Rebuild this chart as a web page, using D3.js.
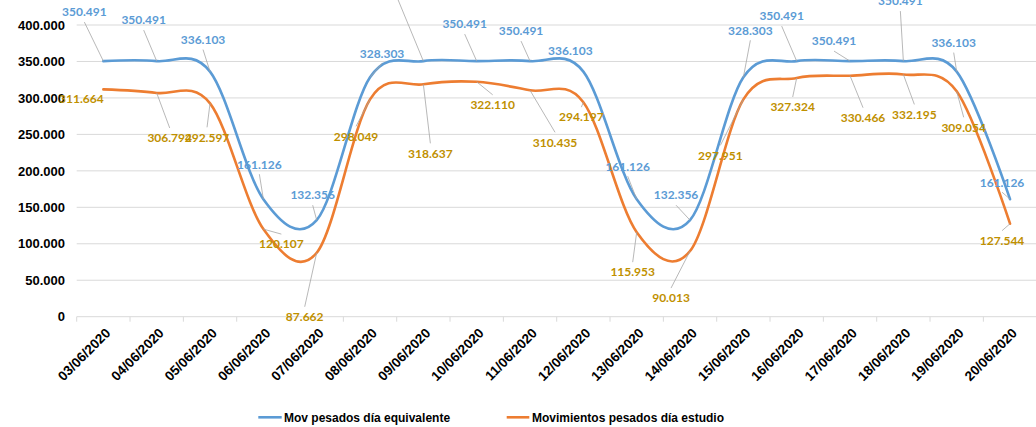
<!DOCTYPE html>
<html>
<head>
<meta charset="utf-8">
<script src="https://cdn.jsdelivr.net/npm/d3@7"></script>
<style>
  body { margin: 0; background: #fff; }
  svg { display: block; }
</style>
</head>
<body>
<svg id="chart" width="1036" height="427"></svg>
<script>
// datos
const dates = ["03/06/2020", "04/06/2020", "05/06/2020", "06/06/2020", "07/06/2020", "08/06/2020",
               "09/06/2020", "10/06/2020", "11/06/2020", "12/06/2020", "13/06/2020", "14/06/2020",
               "15/06/2020", "16/06/2020", "17/06/2020", "18/06/2020", "19/06/2020", "20/06/2020"];
const movEquivalente = [350491, 350491, 336103, 161126, 132356, 328303, 350491, 350491, 350491,
                        336103, 161126, 132356, 328303, 350491, 350491, 350491, 336103, 161126];
const movEstudio = [311664, 306794, 292597, 120107, 87662, 298049, 318637, 322110, 310435,
                    294197, 115953, 90013, 297951, 327324, 330466, 332195, 309054, 127544];
const yTicks = [0, 50000, 100000, 150000, 200000, 250000, 300000, 350000, 400000];
const seriesNames = ["Mov pesados día equivalente", "Movimientos pesados día estudio"];

// desplazamiento de las etiquetas respecto al punto [dx, dy, linea guia]
const blueLabelOffsets = [[-19, -49, 1], [-13, -41, 1], [-7, -32, 1], [-4, -35, 1], [-4, -25, 1], [12, -24, 1],
                          [-26, -73, 1], [-12, -37, 1], [-9, -30, 1], [-13, -21, 0], [-9, -33, 1], [-14, -25, 1],
                          [7, -47, 1], [-15, -45, 1], [-16, -20, 1], [-3, -60, 1], [-3, -29, 1], [-8, -17, 1]];
const orangeLabelOffsets = [[-22, 9, 0], [13, 45, 1], [-3, 34, 1], [18, 15, 1], [-12, 64, 1], [-14, 37, 1],
                            [7, 69, 1], [16, 23, 1], [25, 52, 1], [-2, 15, 1], [-4, 40, 1], [-19, 47, 1],
                            [-23, 56, 1], [-4, 29, 1], [13, 42, 1], [11, 40, 1], [7, 36, 1], [-8, 17, 1]];

const colors = ["#5B9BD5", "#ED7D31"];
const labelColors = ["#5B9BD5", "#BF9000"];

const locale = d3.formatLocale({ decimal: ",", thousands: ".", grouping: [3], currency: ["", ""] });
const fmt = locale.format(",d");

const svg = d3.select("#chart");
const plotLeft = 76.7, plotRight = 1036.7, plotTop = 25, plotBottom = 316.7;

const x = d3.scaleBand().domain(dates).range([plotLeft, plotRight]).padding(0);
const y = d3.scaleLinear().domain([0, 400000]).range([plotBottom, plotTop]);
const cx = d => x(d) + x.bandwidth() / 2;

// lineas de cuadricula
svg.append("g")
   .selectAll("line")
   .data(yTicks)
   .enter()
   .append("line")
   .attr("x1", plotLeft)
   .attr("x2", plotRight)
   .attr("y1", d => y(d))
   .attr("y2", d => y(d))
   .attr("stroke", "#D9D9D9")
   .attr("stroke-width", 1);

// eje y
svg.append("g")
   .selectAll("text")
   .data(yTicks)
   .enter()
   .append("text")
   .attr("x", 65)
   .attr("y", d => y(d))
   .attr("dy", "0.36em")
   .attr("text-anchor", "end")
   .style("font-family", "'Liberation Sans', Arial, sans-serif")
   .style("font-weight", "bold")
   .style("font-size", "13px")
   .attr("fill", "#000")
   .text(d => fmt(d));

// marcas del eje x
const tickPos = dates.map(d => x(d)).concat([plotRight]);
svg.append("g")
   .selectAll("line")
   .data(tickPos)
   .enter()
   .append("line")
   .attr("x1", d => d)
   .attr("x2", d => d)
   .attr("y1", plotBottom)
   .attr("y2", plotBottom + 5)
   .attr("stroke", "#D9D9D9");

svg.append("g")
   .selectAll("text")
   .data(dates)
   .enter()
   .append("text")
   .attr("transform", d => "translate(" + (cx(d) + 1) + "," + 327 + ") rotate(-45)")
   .attr("dy", "0.72em")
   .attr("text-anchor", "end")
   .style("font-family", "'Liberation Sans', Arial, sans-serif")
   .style("font-weight", "bold")
   .style("font-size", "13.5px")
   .attr("fill", "#000")
   .text(d => d);

// lineas suavizadas
const line = d3.line()
               .x((d, i) => cx(dates[i]))
               .y(d => y(d))
               .curve(d3.curveCardinal.tension(0));

[movEquivalente, movEstudio].forEach((values, s) => {
  svg.append("path")
     .datum(values)
     .attr("d", line)
     .attr("fill", "none")
     .attr("stroke", colors[s])
     .attr("stroke-width", 2.6)
     .attr("stroke-linecap", "round");
});

// etiquetas de datos con lineas guia
[[movEquivalente, blueLabelOffsets], [movEstudio, orangeLabelOffsets]].forEach(([values, offsets], s) => {
  values.forEach((v, i) => {
    const px = cx(dates[i]), py = y(v);
    const lx = px + offsets[i][0], ly = py + offsets[i][1];
    if (offsets[i][2]) {
      const sy = py > ly ? ly + 10 : ly - 10;
      svg.append("line")
         .attr("x1", lx)
         .attr("y1", sy)
         .attr("x2", px)
         .attr("y2", py)
         .attr("stroke", "#A6A6A6")
         .attr("stroke-width", 0.8);
    }
    svg.append("text")
       .attr("x", lx)
       .attr("y", ly)
       .attr("dy", "0.36em")
       .attr("text-anchor", "middle")
       .style("font-family", "Lato, 'Liberation Sans', sans-serif")
       .style("font-weight", "bold")
       .style("font-size", "12px")
       .attr("fill", labelColors[s])
       .text(fmt(v));
  });
});

// leyenda
const legendItems = [
  { x1: 258.3, x2: 281.7, tx: 284 },
  { x1: 506.7, x2: 529.3, tx: 532 }
];
legendItems.forEach((it, s) => {
  svg.append("line")
     .attr("x1", it.x1)
     .attr("x2", it.x2)
     .attr("y1", 417.3)
     .attr("y2", 417.3)
     .attr("stroke", colors[s])
     .attr("stroke-width", 2.6);
  svg.append("text")
     .attr("x", it.tx)
     .attr("y", 421.7)
     .style("font-family", "'Liberation Sans', Arial, sans-serif")
     .style("font-weight", "bold")
     .style("font-size", "12px")
     .attr("fill", "#000")
     .text(seriesNames[s]);
});
</script>
</body>
</html>
